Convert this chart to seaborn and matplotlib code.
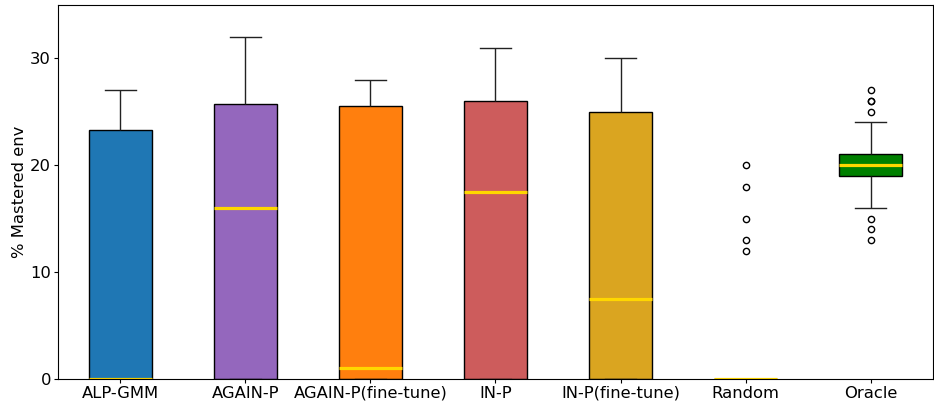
import pandas as pd
import matplotlib
matplotlib.use("Agg")
import matplotlib.pyplot as plt
import seaborn as sns

# ── Data ────────────────────────────────────────────────────────────
methods = ["ALP-GMM", "AGAIN-P", "AGAIN-P(fine-tune)", "IN-P",
           "IN-P(fine-tune)", "Random", "Oracle"]
colors = ["#1f77b4", "#9467bd", "#ff7f0e", "#cd5c5c",
          "#daa520", "#7f7f7f", "#008000"]

alp_gmm = [0, 0, 0, 0, 0, 0, 23.25, 25, 27]
again_p = [0, 0, 0, 8, 16, 20, 25.75, 28, 32]
again_p_ft = [0, 0, 0, 0.5, 1, 10, 25.5, 27, 28]
in_p = [0, 0, 0, 9, 17.5, 22, 26, 28, 31]
in_p_ft = [0, 0, 0, 4, 7.5, 15, 25, 27, 30]
random_ = [0, 0, 0, 0, 0, 0, 0, 0, 0, 0, 0, 0, 0, 0, 0, 0, 0, 0, 0, 0,
           12, 13, 15, 18, 20]
oracle = [13, 14, 15, 16, 17, 18, 19, 19, 19, 20, 20, 20, 20,
          20, 20.5, 21, 21, 21, 21, 22, 24, 25, 26, 26, 27]

series = [alp_gmm, again_p, again_p_ft, in_p, in_p_ft, random_, oracle]

rows = []
for name, vals in zip(methods, series):
    for v in vals:
        rows.append({"method": name, "value": v})
df = pd.DataFrame(rows)

# ── Plot ────────────────────────────────────────────────────────────
fig, ax = plt.subplots(figsize=(9.34, 4.04), dpi=100)

sns.boxplot(
    data=df, x="method", y="value", hue="method", order=methods,
    hue_order=methods, palette=colors, legend=False, width=0.5,
    saturation=1, linecolor="black", linewidth=1,
    medianprops={"color": "#ffd700", "linewidth": 2.3},
    whiskerprops={"color": "#222222", "linewidth": 1},
    capprops={"color": "#222222", "linewidth": 1},
    flierprops={"marker": "o", "markersize": 4.5, "markerfacecolor": "none",
                "markeredgecolor": "black", "markeredgewidth": 1},
    ax=ax,
)

ax.set_ylim(0, 35)
ax.set_xlim(-0.5, 6.5)
ax.set_yticks([0, 10, 20, 30])
ax.set_xlabel("")
ax.set_ylabel("% Mastered env", fontsize=11.8, labelpad=2)
ax.tick_params(labelsize=11.8, length=3, pad=2)
for s in ax.spines.values():
    s.set_visible(True)
    s.set_color("black")

plt.subplots_adjust(left=0.062, right=0.999, top=0.988, bottom=0.062)
plt.savefig("out.png", dpi=100)
